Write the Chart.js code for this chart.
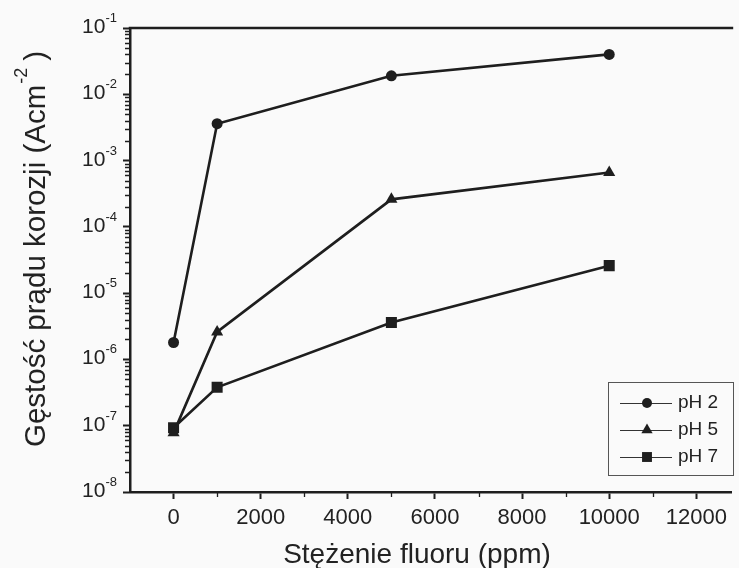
<!DOCTYPE html>
<html><head><meta charset="utf-8">
<script src="https://cdn.jsdelivr.net/npm/chart.js@4/dist/chart.umd.min.js"></script>
<style>html,body{margin:0;padding:0;background:#fafafa;}#wrap{width:739px;height:568px;}</style>
</head><body><div id="wrap"><canvas id="c" width="739" height="568"></canvas></div>
<script>
// ---- data ----
const concentrations = [0, 1000, 5000, 10000];
const seriesNames = ['pH 2', 'pH 5', 'pH 7'];
const ph2 = [1.8e-6, 3.6e-3, 1.9e-2, 4.0e-2];
const ph5 = [7.8e-8, 2.6e-6, 2.6e-4, 6.6e-4];
const ph7 = [9.3e-8, 3.8e-7, 3.6e-6, 2.6e-5];
const xTicks = [0, 2000, 4000, 6000, 8000, 10000, 12000];
const xMinorTicks = [1000, 3000, 5000, 7000, 9000, 11000];
const yExponents = [-8, -7, -6, -5, -4, -3, -2, -1];
const xTitle = 'Stężenie fluoru (ppm)';
const yTitleMain = 'Gęstość prądu korozji (Acm';
const yTitleSup = '-2';
const yTitleEnd = ')';

const FONT = '"Liberation Sans", Arial, Helvetica, sans-serif';
const INK = '#1e1e1e';

const styles = ['circle', 'triangle', 'rect'];
const radii = [5.5, 7, 7.8];
const seriesValues = [ph2, ph5, ph7];

const datasets = seriesValues.map((vals, i) => ({
  label: seriesNames[i],
  data: concentrations.map((x, j) => ({x: x, y: vals[j]})),
  borderColor: INK, backgroundColor: INK,
  borderWidth: 2.6, pointStyle: styles[i], pointRadius: radii[i],
  pointBorderWidth: 0, tension: 0
}));

const decorPlugin = {
  id: 'decor',
  afterDraw(chart) {
    const ctx = chart.ctx, a = chart.chartArea;
    const xs = chart.scales.x, ys = chart.scales.y;
    ctx.save();
    // top frame line
    ctx.strokeStyle = INK; ctx.lineWidth = 2.5;
    ctx.beginPath(); ctx.moveTo(a.left - 1.25, a.top); ctx.lineTo(a.right + 2, a.top); ctx.stroke();
    // minor ticks
    ctx.lineWidth = 1.3;
    ctx.beginPath();
    xMinorTicks.forEach(v => { const px = Math.round(xs.getPixelForValue(v)) + 0.5; ctx.moveTo(px, a.bottom); ctx.lineTo(px, a.bottom + 5); });
    for (let k = yExponents[0]; k < yExponents[yExponents.length - 1]; k++) {
      for (let m = 2; m <= 9; m++) {
        const py = Math.round(ys.getPixelForValue(m * Math.pow(10, k))) + 0.5;
        ctx.moveTo(a.left, py); ctx.lineTo(a.left - 5, py);
      }
    }
    ctx.stroke();
    // y tick labels: 10 with superscript exponent
    ctx.fillStyle = '#222';
    ctx.textAlign = 'right'; ctx.textBaseline = 'alphabetic';
    yExponents.forEach(k => {
      const py = ys.getPixelForValue(Math.pow(10, k));
      const exp = String(k);
      ctx.font = '13px ' + FONT;
      const ew = ctx.measureText(exp).width;
      ctx.fillText(exp, 117, py - 6);
      ctx.font = '21px ' + FONT;
      ctx.fillText('10', 117 - ew, py + 5);
    });
    // axis titles
    ctx.fillStyle = '#222';
    ctx.font = '28px ' + FONT;
    ctx.textAlign = 'center'; ctx.textBaseline = 'alphabetic';
    ctx.fillText(xTitle, 417, 563);
    // y title rotated
    ctx.save();
    ctx.translate(45, 249);
    ctx.rotate(-Math.PI / 2);
    const big = '29.5px ' + FONT, small = '18px ' + FONT;
    ctx.font = big;
    const w1 = ctx.measureText(yTitleMain).width;
    const w3 = ctx.measureText(yTitleEnd).width;
    const gap = 24;
    const total = w1 + gap + w3;
    const x0 = -total / 2;
    ctx.textAlign = 'left';
    ctx.fillText(yTitleMain, x0, 0);
    ctx.font = small;
    ctx.fillText(yTitleSup, x0 + w1 + 1, -18);
    ctx.font = big;
    ctx.fillText(yTitleEnd, x0 + w1 + gap, 0);
    ctx.restore();
    // legend
    const bx = 608, by = 382, bw = 125, bh = 93;
    ctx.lineWidth = 1; ctx.strokeStyle = '#555';
    ctx.strokeRect(bx + 0.5, by + 0.5, bw, bh);
    const rows = [403, 430, 457];
    ctx.font = '19px ' + FONT; ctx.textAlign = 'left'; ctx.textBaseline = 'middle';
    seriesNames.forEach((name, i) => {
      const y = rows[i];
      ctx.strokeStyle = '#333'; ctx.lineWidth = 1.2;
      ctx.beginPath(); ctx.moveTo(620, y + 0.5); ctx.lineTo(672, y + 0.5); ctx.stroke();
      ctx.fillStyle = INK;
      Chart.helpers.drawPoint(ctx, {pointStyle: styles[i], rotation: 0, radius: [5, 6.5, 7][i], borderWidth: 0}, 647, y);
      ctx.fillStyle = '#222';
      ctx.fillText(name, 678, y);
    });
    ctx.restore();
  }
};

new Chart(document.getElementById('c'), {
  type: 'line',
  data: {datasets: datasets},
  plugins: [decorPlugin],
  options: {
    responsive: false, animation: false,
    layout: {padding: {top: 28, right: 1, left: 0, bottom: 0}},
    plugins: {legend: {display: false}, tooltip: {enabled: false}},
    scales: {
      x: {
        type: 'linear', min: -1000, max: 12800,
        afterFit(s) { s.height = 76; },
        afterBuildTicks(s) { s.ticks = xTicks.map(v => ({value: v})); },
        grid: {drawOnChartArea: false, tickLength: 7, tickWidth: 2, tickColor: INK},
        border: {color: INK, width: 2.5},
        ticks: {padding: 6, color: '#222', font: {family: FONT, size: 22}, maxRotation: 0, autoSkip: false,
                callback: v => String(v)}
      },
      y: {
        type: 'logarithmic', min: 1e-8, max: 1e-1,
        afterFit(s) { s.width = 130; },
        afterBuildTicks(s) { s.ticks = yExponents.map(k => ({value: Math.pow(10, k)})); },
        grid: {drawOnChartArea: false, tickLength: 7, tickWidth: 2, tickColor: INK},
        border: {color: INK, width: 2.5},
        ticks: {display: false}
      }
    }
  }
});
</script></body></html>
